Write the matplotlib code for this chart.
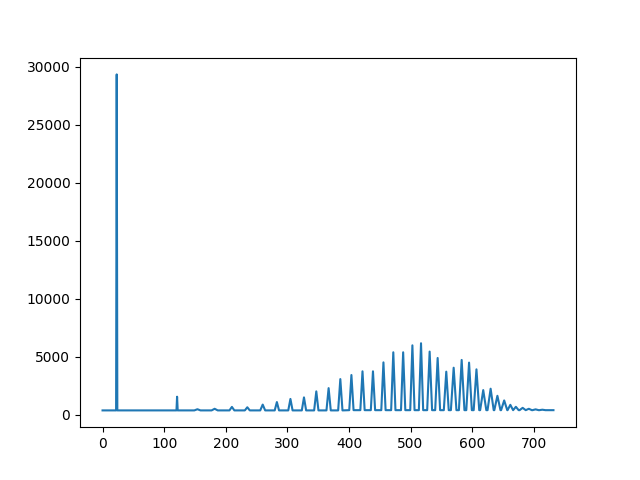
import matplotlib
matplotlib.use("Agg")
import matplotlib.pyplot as plt
import numpy as np

# Values
x_start, x_end = 0, 732
baseline_left = 380
baseline_right = 400

peak_x = [23, 121, 154, 182, 210, 235, 260, 283, 305, 327, 347, 367, 386, 404,
          422, 439, 456, 472, 488, 503, 517, 531, 544, 558, 570, 583, 595, 607,
          618, 630, 641, 652, 662, 671, 682, 692, 703, 714]
peak_y = [29350, 1560, 480, 520, 680, 650, 880, 1100, 1370, 1500, 2020, 2300,
          3080, 3430, 3750, 3750, 4520, 5390, 5390, 5990, 6170, 5450, 4900,
          3720, 4060, 4730, 4500, 3920, 2130, 2250, 1640, 1240, 860, 690, 600,
          520, 470, 440]
peak_halfwidth = [1.0, 1.0, 5, 5, 4, 4, 4, 3.5, 3.5, 3.5, 3.5, 3.5, 3.5, 3.5,
                  3.5, 3.5, 3.5, 3.5, 3.5, 3.5, 3.5, 4, 4, 4, 4.5, 4.5, 4.5, 4.5,
                  5, 5, 5, 5, 4.5, 4.5, 5, 5, 5, 5]

xs = [x_start]
ys = [baseline_left]
for px, py, hw in zip(peak_x, peak_y, peak_halfwidth):
    base = baseline_left if px < 400 else baseline_right
    xs += [px - hw, px, px + hw]
    ys += [base, py, base]
xs.append(x_end)
ys.append(baseline_right)

fig, ax = plt.subplots(figsize=(6.4, 4.8), dpi=100)
ax.plot(xs, ys, color="#1f77b4", linewidth=1.5)
fig.savefig("out.png")
